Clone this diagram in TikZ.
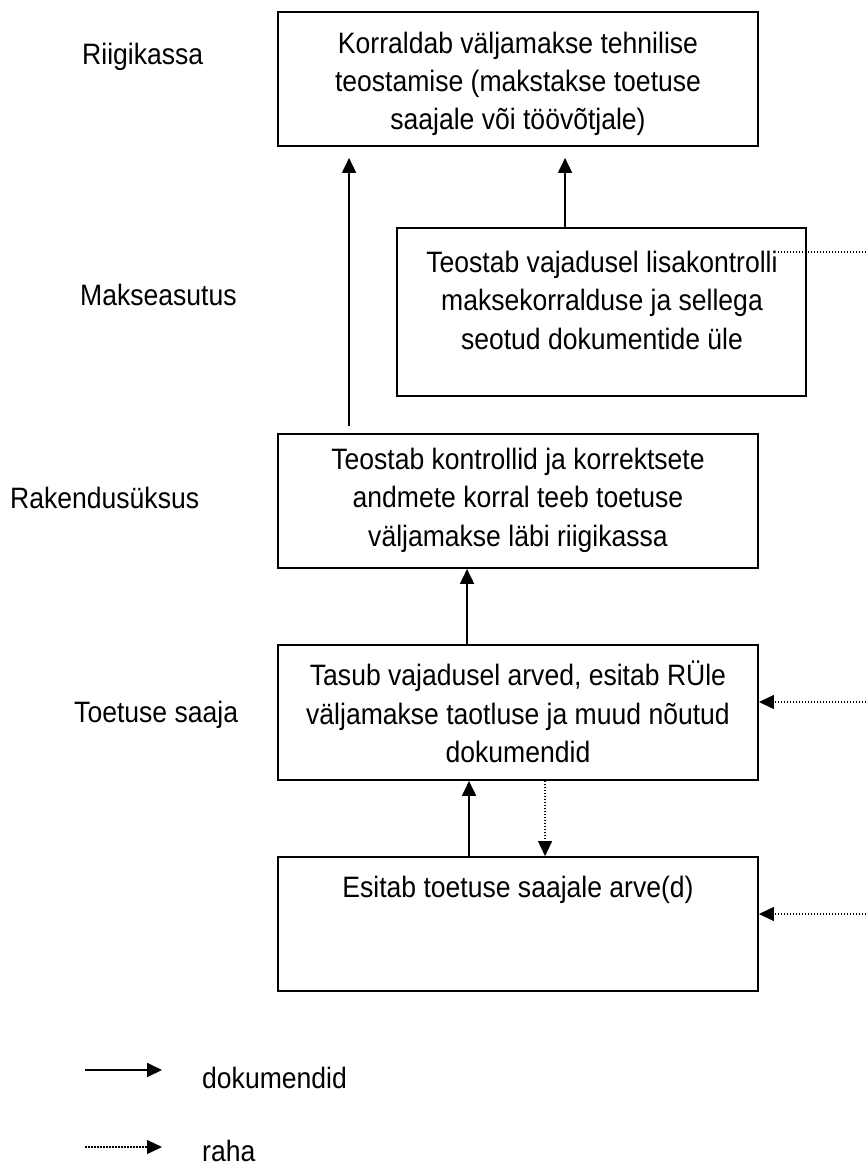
\documentclass[tikz,border=0pt]{standalone}
\usepackage{fontspec}
\setmainfont{Liberation Sans}[FakeStretch=0.9]
\usetikzlibrary{arrows.meta}

\begin{document}
\begin{tikzpicture}[x=1pt,y=-1pt,
  box/.style={draw, line width=1.9pt, inner sep=0pt, rectangle},
  txt/.style={font=\fontsize{29.5}{38.3}\selectfont, align=center, inner sep=0pt, anchor=north},
  lbl/.style={font=\fontsize{29.5}{38.3}\selectfont, inner sep=0pt, anchor=base west},
  doc/.style={line width=1.9pt, -{Triangle[length=15pt,width=14pt]}},
  cash/.style={line width=1.3pt, dash pattern=on 1.5pt off 1.5pt},
  casharrow/.style={cash, -{Triangle[length=15pt,width=14pt]}}]

\useasboundingbox (0,0) rectangle (866,1167);

% level labels
\node[lbl] (l1) at (82,64) {Riigikassa};
\node[lbl] (l2) at (80,305) {Makseasutus};
\node[lbl] (l3) at (10,508) {Rakendusüksus};
\node[lbl] (l4) at (74,722) {Toetuse saaja};

% boxes
\node[box, minimum width=480pt, minimum height=134pt] (b1) at (518,79) {};
\node[box, minimum width=409pt, minimum height=168pt] (b2) at (601.5,312) {};
\node[box, minimum width=480pt, minimum height=134pt] (b3) at (518,501) {};
\node[box, minimum width=480pt, minimum height=135pt] (b4) at (518,712.5) {};
\node[box, minimum width=480pt, minimum height=134pt] (b5) at (518,924) {};

% box texts
\node[txt] (t1) at (518,31.5) {Korraldab väljamakse tehnilise\\teostamise (makstakse toetuse\\saajale või töövõtjale)};
\node[txt] (t2) at (602,251) {Teostab vajadusel lisakontrolli\\maksekorralduse ja sellega\\seotud dokumentide üle};
\node[txt] (t3) at (518,448) {Teostab kontrollid ja korrektsete\\andmete korral teeb toetuse\\väljamakse läbi riigikassa};
\node[txt] (t4) at (518,661) {Tasub vajadusel arved, esitab RÜle\\väljamakse taotluse ja muud nõutud\\dokumendid};
\node[txt] (t5) at (518,876) {Esitab toetuse saajale arve(d)};

% document flow
\draw[doc, shorten <=7pt, shorten >=11pt] ([xshift=72pt]b3.north west) -- ([xshift=72pt]b1.south west);
\draw[doc, shorten >=11pt] ([xshift=169pt]b2.north west) -- ([xshift=288pt]b1.south west);
\draw[doc] ([xshift=190pt]b4.north west) -- ([xshift=190pt]b3.south west);
\draw[doc] ([xshift=192pt]b5.north west) -- ([xshift=192pt]b4.south west);

% money flow
\coordinate (m2) at (866,252);
\coordinate (m4) at (866,702);
\coordinate (m5) at (866,914);
\draw[cash] (m2) -- (777,252);
\draw[casharrow] (m4) -- (b4.east |- m4);
\draw[casharrow] (m5) -- (b5.east |- m5);
\draw[casharrow] ([xshift=268pt]b4.south west) -- ([xshift=268pt]b5.north west);

% legend
\coordinate (k1a) at (85,1070);
\coordinate (k1b) at (162,1070);
\coordinate (k2a) at (85,1147);
\coordinate (k2b) at (162,1147);
\draw[doc] (k1a) -- (k1b);
\draw[casharrow] (k2a) -- (k2b);
\node[lbl] (kd) at (202,1088) {dokumendid};
\node[lbl] (kr) at (202,1161) {raha};
\end{tikzpicture}
\end{document}
